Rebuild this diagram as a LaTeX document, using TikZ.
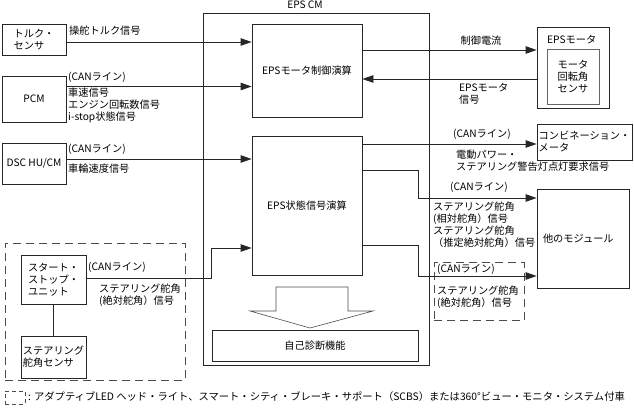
\documentclass[tikz,border=0pt]{standalone}
\usepackage{fontspec}
\newfontfamily\jpfont{Noto Sans CJK JP}
\usepackage{tikz}
\usetikzlibrary{arrows.meta}
\tikzset{
  blk/.style    = {draw=black!85, line width=0.8pt, inner sep=0pt, align=center,
                   font=\jpfont\fontsize{10.2}{12}\selectfont},
  lbl/.style    = {inner sep=0pt, align=left, font=\jpfont\fontsize{10.2}{12}\selectfont},
  grp/.style    = {draw=black!70, line width=0.8pt, dash pattern=on 8pt off 5pt,
                   inner sep=0pt},
  sig/.style    = {-{Triangle[length=11pt,width=7.5pt]}, line width=0.8pt, black!85},
  link/.style   = {line width=0.8pt, black!85},
  hollow/.style = {draw=black!70, line width=0.6pt},
}

\begin{document}
\begin{tikzpicture}[x=1pt, y=-1pt]
\useasboundingbox (0,0) rectangle (634,409);
% EPS CM
\node[blk, minimum width=226pt, minimum height=352pt] (epscm) at (316,189) {};
\node[lbl] (epscmlbl) at (305,5) {EPS CM};
\node[blk, minimum width=110pt, minimum height=93pt]  (motorcalc) at (307,70.5)  {EPSモータ制御演算};
\node[blk, minimum width=110pt, minimum height=139pt] (statecalc) at (307,205.5) {EPS状態信号演算};
\node[blk, minimum width=206pt, minimum height=31pt]  (diag)      at (315,345.5) {自己診断機能};
\draw[hollow] (276,287) -- (348,287) -- (348,311) -- (373,311) -- (310,328)
  -- (250,311) -- (276,311) -- cycle;

% inputs
\node[blk, minimum width=64pt, minimum height=31pt, align=left] (torque) at (34,39.5) {トルク・\\センサ};
\node[blk, minimum width=64pt, minimum height=46pt] (pcm) at (34,99)    {PCM};
\node[blk, minimum width=64pt, minimum height=41pt] (dsc) at (34,163.5) {DSC HU/CM};
\node[grp, minimum width=180pt, minimum height=137pt] (ssgrp) at (95,311.5) {};
\node[blk, minimum width=65pt, minimum height=49pt, align=left] (ssu) at (53.5,279.5) {スタート・\\ストップ・\\ユニット};
\node[blk, minimum width=65pt, minimum height=42pt, align=left] (sas) at (53.5,357)   {ステアリング\\舵角センサ};
\draw[link] (ssu) -- (sas);

\draw[sig] ([yshift=-2.5pt]torque.east) -- ([yshift=28.5pt]motorcalc.west);
\draw[sig] ([yshift=12.5pt]pcm.east) -- ([yshift=-16pt]motorcalc.west);
\draw[sig] ([yshift=4.5pt]dsc.east) -- ([yshift=46.5pt]statecalc.west);
\draw[sig] ([yshift=1.5pt]ssu.east) -- ++(125,0) |- ([yshift=-42.5pt]statecalc.west);

\node[lbl, anchor=west] (torquesig) at (69,31)    {操舵トルク信号};
\node[lbl, anchor=west] (pcmcan)    at (68,77)    {(CANライン)};
\node[lbl, anchor=west] (pcmsig)    at (68,105.5) {車速信号\\エンジン回転数信号\\i-stop状態信号};
\node[lbl, anchor=west] (dsccan)    at (68,149)   {(CANライン)};
\node[lbl, anchor=west] (dscsig)    at (68,169)   {車輪速度信号};
\node[lbl, anchor=west] (ssucan)    at (88,267)   {(CANライン)};
\node[lbl, anchor=west] (ssusig)    at (99,295.5) {ステアリング舵角\\(絶対舵角）信号};

% outputs
\node[blk, minimum width=72pt, minimum height=81pt] (epsmotor) at (573,67.5) {};
\node[lbl, anchor=west] (epsmotorlbl) at (547,40) {EPSモータ};
\node[blk, draw=black!60, minimum width=52pt, minimum height=55pt] (rotsens) at (573,76.5) {モータ\\回転角\\センサ};
\node[blk, minimum width=95pt, minimum height=36pt, align=left] (combi) at (584.5,142) {コンビネーション・\\メータ};
\node[blk, minimum width=92pt, minimum height=99pt, text width=80pt, align=left] (other) at (583,238.5) {他のモジュール};
\node[grp, minimum width=90pt, minimum height=58pt] (optgrp) at (479,291.5) {};

\draw[sig] ([yshift=20.5pt]motorcalc.east) -- ([yshift=17.5pt]epsmotor.west);
\draw[sig] ([yshift=-11.5pt]epsmotor.west) -- ([yshift=-8.5pt]motorcalc.east);
\draw[sig] ([yshift=61.5pt]statecalc.east) -- ([yshift=-2pt]combi.west);
\draw[sig] ([yshift=35.5pt]statecalc.east) -- ++(56,0) |- ([yshift=40.5pt]other.west);
\draw[sig] ([yshift=-39.5pt]statecalc.east) -- ++(56,0) |- ([yshift=-37.5pt]other.west);

\node[lbl] (cursig) at (481,41) {制御電流};
\node[lbl, anchor=west] (motorsig)  at (459,94)    {EPSモータ\\信号};
\node[lbl, anchor=west] (combican)  at (453,134)   {(CANライン)};
\node[lbl, anchor=west] (combisig)  at (456,161)   {電動パワー・\\ステアリング警告灯点灯要求信号};
\node[lbl, anchor=west] (othercan)  at (450,187)   {(CANライン)};
\node[lbl, anchor=west] (othersig)  at (433,224.5) {ステアリング舵角\\(相対舵角）信号\\ステアリング舵角\\（推定絶対舵角）信号};
\node[lbl, anchor=west] (optcan)    at (437,269.5) {(CANライン)};
\node[lbl, anchor=west] (optsig)    at (437,297.5) {ステアリング舵角\\(絶対舵角）信号};

% legend
\node[grp, dash pattern=on 4pt off 3pt, minimum width=20pt, minimum height=13pt] (legicon) at (15,397.5) {};
\node[lbl, anchor=west, font=\jpfont\fontsize{10.3}{12}\selectfont] (legtext) at (28,397) {: アダプティブLED ヘッド・ライト、スマート・シティ・ブレーキ・サポート（SCBS）または360°ビュー・モニタ・システム付車};
\end{tikzpicture}
\end{document}
